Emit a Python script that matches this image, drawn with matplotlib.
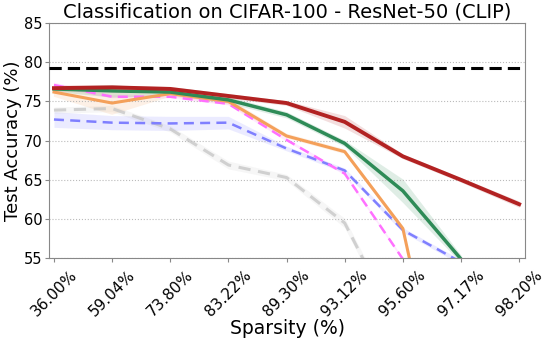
import matplotlib.pyplot as plt
import numpy as np

sparsity = ['36.00%', '59.04%', '73.80%', '83.22%', '89.30%',
            '93.12%', '95.60%', '97.17%', '98.20%']

dense_acc = 79.25

red_mean = [76.7, 76.8, 76.6, 75.7, 74.8, 72.4, 68.0, 65.0, 61.9]
red_std = [0.4, 0.3, 0.3, 0.3, 0.3, 0.8, 0.3, 0.3, 0.4]

green_mean = [76.6, 76.35, 76.2, 75.2, 73.3, 69.65, 63.6, 54.9]
green_std = [0.3, 0.8, 0.4, 0.4, 0.4, 0.4, 1.5, 0.5]

orange_mean = [76.2, 74.8, 76.0, 75.0, 70.6, 68.6, 58.8, 25.0]
orange_std = [0.6, 1.5, 0.4, 0.4, 0.3, 0.3, 0.3, 0.3]

pink_mean = [77.1, 75.6, 75.6, 74.7, 70.1, 65.8, 54.9, 30.0]
pink_std = [0.3, 0.2, 0.2, 0.2, 0.2, 0.2, 0.2, 0.2]

blue_mean = [72.7, 72.3, 72.2, 72.3, 69.0, 66.2, 58.6, 54.5]
blue_std = [1.0, 0.9, 0.9, 0.8, 0.3, 0.3, 0.3, 0.3]

gray_mean = [73.9, 74.1, 71.5, 66.9, 65.3, 59.5, 45.0]
gray_std = [0.4, 0.4, 0.4, 0.5, 0.4, 0.6, 0.6]

fig, ax = plt.subplots(figsize=(5.48, 3.39), dpi=100)
fig.subplots_adjust(left=0.09, right=0.958, top=0.932, bottom=0.238)

ax.axhline(dense_acc, color='black', linestyle='--', linewidth=2.2, dashes=(4, 2), zorder=5)

def curve(mean, std, color, ls, lw, alpha=1.0):
    mean = np.array(mean)
    std = np.array(std)
    x = np.arange(len(mean))
    ax.fill_between(x, mean - std, mean + std, color=color, alpha=0.15, linewidth=0)
    ax.plot(x, mean, color=color, linestyle=ls, linewidth=lw, alpha=alpha)

curve(gray_mean, gray_std, '#c4c4c4', (0, (4, 2.5)), 2.2, 0.75)
curve(blue_mean, blue_std, '#7f7fff', (0, (4, 2.5)), 1.8)
curve(pink_mean, pink_std, '#ff70ff', (0, (4, 2.5)), 1.8)
curve(orange_mean, orange_std, '#f4a05a', '-', 2.2)
curve(green_mean, green_std, '#2e8b57', '-', 2.5)
curve(red_mean, red_std, '#b22222', '-', 2.8)

ax.set_xlim(-0.08, 8.1)
ax.set_ylim(55, 85)
ax.set_yticks([55, 60, 65, 70, 75, 80, 85])
ax.set_xticks(range(len(sparsity)))
ax.set_xticklabels(sparsity, rotation=45)
ax.tick_params(labelsize=11, color='#888888', length=3)
ax.tick_params(axis='y', labelsize=10.5, pad=2)
ax.grid(axis='y', linestyle=':', color='#bbbbbb', linewidth=0.8)
for s in ax.spines.values():
    s.set_color('#888888')

ax.set_title('Classification on CIFAR-100 - ResNet-50 (CLIP)', fontsize=14, pad=4)
ax.set_xlabel('Sparsity (%)', fontsize=13.5, labelpad=0)
ax.set_ylabel('Test Accuracy (%)', fontsize=13, labelpad=1)

fig.savefig('out.png', dpi=100)
